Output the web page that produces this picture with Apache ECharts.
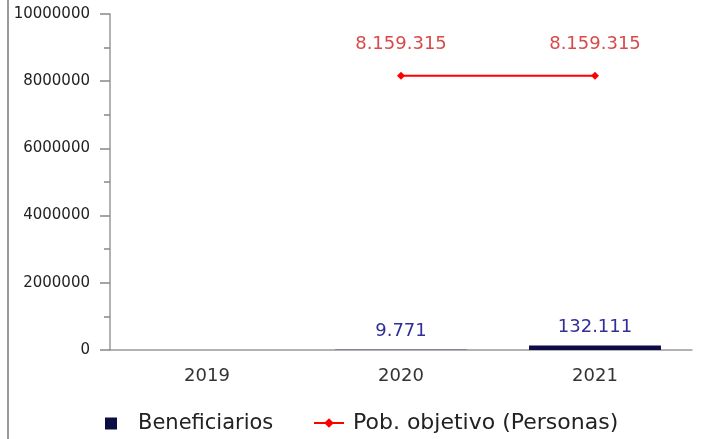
<!DOCTYPE html>
<html>
<head>
<meta charset="utf-8">
<script src="https://cdn.jsdelivr.net/npm/echarts@6/dist/echarts.min.js"></script>
<style>
  html, body { margin: 0; padding: 0; background: #fff; }
  #chart { width: 702px; height: 439px; }
</style>
</head>
<body>
<div id="chart"></div>
<script>
const years = ['2019', '2020', '2021'];
const beneficiarios = [null, 9771, 132111];
const poblacionObjetivo = [null, 8159315, 8159315];

// formato con puntos de miles
const fmt = v => String(v).replace(/\B(?=(\d{3})+(?!\d))/g, '.');

const chart = echarts.init(document.getElementById('chart'));

chart.setOption({
  animation: false,
  textStyle: { fontFamily: 'DejaVu Sans' },
  graphic: [{
    type: 'line',
    shape: { x1: 8, y1: 0, x2: 8, y2: 439 },
    style: { stroke: '#999', lineWidth: 2 }
  }],
  grid: { left: 110, right: 10, top: 14, bottom: 89 },
  legend: [
    {
      left: 100,
      bottom: 0,
      itemWidth: 12,
      itemHeight: 12,
      textStyle: { fontSize: 21, color: '#222', padding: [0, 0, 0, 16] },
      data: [{ name: 'Beneficiarios', icon: 'rect', itemStyle: { color: '#0d0d45' } }]
    },
    {
      left: 308,
      bottom: 0,
      itemWidth: 30,
      itemHeight: 12,
      textStyle: { fontSize: 22, color: '#222', padding: [0, 0, 0, 4] },
      data: [{ name: 'Pob. objetivo (Personas)' }]
    }
  ],
  xAxis: {
    type: 'category',
    data: years,
    axisLine: { lineStyle: { color: '#999', width: 1.5 } },
    axisTick: { show: false },
    axisLabel: { fontSize: 18, color: '#333', margin: 17 }
  },
  yAxis: {
    type: 'value',
    min: 0,
    max: 10000000,
    interval: 2000000,
    axisLine: { show: true, lineStyle: { color: '#999', width: 1.5 } },
    axisTick: { show: true, length: 10, lineStyle: { color: '#888', width: 1.5 } },
    minorTick: { show: true, splitNumber: 2, length: 6, lineStyle: { color: '#888', width: 1.5 } },
    splitLine: { show: false },
    axisLabel: { fontSize: 15, color: '#222', margin: 20, formatter: v => String(v) }
  },
  series: [
    {
      name: 'Beneficiarios',
      type: 'bar',
      data: beneficiarios,
      barWidth: '68%',
      itemStyle: { color: '#0d0d45' },
      label: {
        show: true,
        position: 'top',
        distance: 9,
        fontSize: 18,
        color: '#2f2f9a',
        formatter: p => fmt(p.value)
      }
    },
    {
      name: 'Pob. objetivo (Personas)',
      type: 'line',
      data: poblacionObjetivo,
      symbol: 'diamond',
      symbolSize: 8,
      lineStyle: { color: '#ff0000', width: 2 },
      itemStyle: { color: '#ff0000' },
      label: {
        show: true,
        position: 'top',
        distance: 19,
        fontSize: 18,
        color: '#d84a4a',
        formatter: p => fmt(p.value)
      }
    }
  ]
});
</script>
</body>
</html>
